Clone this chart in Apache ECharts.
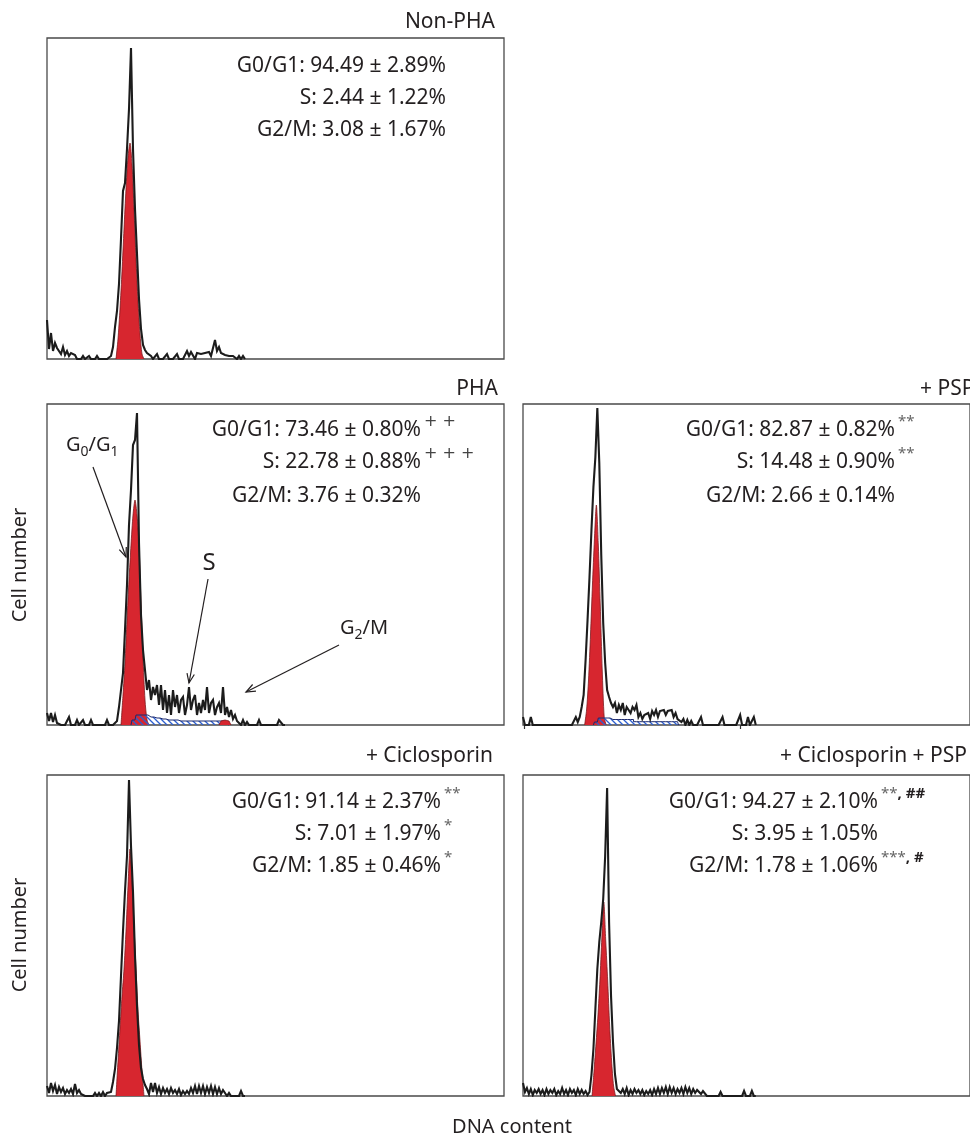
<!DOCTYPE html>
<html><head><meta charset="utf-8">
<script src="https://cdn.jsdelivr.net/npm/echarts@6/dist/echarts.min.js"></script>
<style>html,body{margin:0;padding:0;background:#fff}#c{width:970px;height:1134px}</style>
</head><body><div id="c"></div>
<script>
// ---------- DATA (histogram counts per 2-channel bin, starting at bin 0) ----------
const nonPha = [39,10,26,8,16,11,13,5,12,4, 8,3,6,5,4,0,0,0,3,0, 0,3,0,0,0,3,0,0,0,0,
  0,0,3,12,32,48,75,120,168,176, 210,250,311,210,150,105,60,30,14,9, 6,8,3,0,0,5,0,0,0,0,
  5,0,0,0,0,5,0,0,0,0, 8,3,7,5,0,6,4,5,3,6, 4,7,3,5,19,8,12,6,5,4, 5,3,4,3,4,0,3,0,3,0];
const pha = [12,4,12,3,10,2,0,0,0,0, 0,8,0,0,0,5,0,0,5,0, 0,0,5,0,0,0,0,0,0,0,
  5,0,0,0,0,4,18,35,52,95, 140,200,235,280,285,312,182,110,75,55, 35,45,25,38,30,40,20,40,15,35,
  12,30,10,35,18,30,12,25,28,10, 20,38,15,25,30,10,22,12,25,15, 38,12,22,25,10,18,22,12,38,10,
  18,8,15,6,10,4,6,0,5,0, 3,0,0,0,0,0,5,0,0,0, 0,0,0,0,0,0,5,5,0,0];
const psp = [8,0,0,0,8,0,0,0,0,0, 0,0,0,0,0,0,0,0,0,0, 0,0,0,0,0,0,0,8,3,8,
  18,30,65,105,148,195,238,268,317,262, 170,102,62,35,28,22,18,22,12,20, 15,22,10,18,20,12,18,15,20,8,
  12,6,10,8,12,6,14,10,15,8, 14,12,15,10,14,12,15,8,12,6, 8,3,6,0,5,0,4,0,0,0,
  0,8,0,0,0,0,0,0,0,0, 0,0,8,0,0,0,0,0,0,0, 0,10,0,0,0,8,0,0,8,0];
const cic = [10,3,13,5,11,2,9,4,8,2, 6,3,7,2,12,3,6,2,4,0, 0,0,0,0,3,0,3,0,4,0,
  3,5,4,14,27,48,75,120,165,205, 240,316,250,204,140,90,51,28,17,11, 7,2,13,4,13,3,9,2,8,3,
  7,2,8,3,6,2,7,1,5,2, 5,2,8,3,10,2,10,3,10,2, 9,3,10,2,9,2,8,2,6,3, 0,3,0,0,0,0,0,5,0,0];
const cicPsp = [13,4,8,2,7,1,6,3,7,2, 6,1,7,2,6,3,7,1,5,2, 8,2,6,1,7,3,6,1,7,2,
  6,2,5,1,4,21,47,87,127,154, 174,197,240,308,174,100,54,22,7,6, 3,7,2,8,1,6,2,7,3,6,
  2,6,1,5,2,6,1,7,2,8, 2,8,3,9,2,9,3,8,2,7, 3,8,2,9,3,8,2,7,3,6,
  6,2,5,3,0,0,0,0,0,0, 0,4,0,0,0,0,0,0,0,0, 0,0,0,5,0,0,0,5,0,0];

// G0/G1 model fits (red): first bin + values per bin
const nonPhaFitStart = 34.5, nonPhaFit = [0,20,50,88,130,170,202,216,195,150,100,58,25,5,0];
const phaFitStart = 37,      phaFit = [0,30,62,105,145,180,210,225,210,180,122,68,25,5,0];
const pspFitStart = 31.5,    pspFit = [0,15,45,90,140,185,220,180,120,55,8,0];
const cicFitStart = 34.5,    cicFit = [0,35,68,100,127,165,210,247,215,170,127,85,55,25,0];
const cicPspFitStart = 35.3, cicPspFit = [0,25,52,80,115,158,194,155,115,70,35,10,0];
// G2/M model fit (red) and S-phase model (hatched)
const phaG2Start = 86, phaG2 = [0,4,5,5,4,4,0];
const phaSStart = 42, phaS = [0,5,5,10,10,10,10,10,10,9, 8,8,7,7,7,6,6,6,6,5, 5,5,5,5,5,4,4,4,4,4,
  4,4,4,4,4,4,4,4,4,4, 4,4,4,4,4,4,4,4,4,0];
const pspSStart = 36, pspS = [0,3,3,7,7,7,7,7,7, 5.5,5.5,5.5,5.5,5.5,5.5,5.5,5.5,5.5,5.5,5.5,5.5,
  3.3,3.3,3.3,3.3,3.3,3.3,3.3,3.3,3.3,3.3,3.3,3.3,3.3,3.3,3.3,3.3,3.3,3.3,3.3,3.3,3.3,3.3,3.3, 0];

// Text
const titles = ['Non-PHA', 'PHA', '+ PSP', '+ Ciclosporin', '+ Ciclosporin + PSP'];
const statsNonPha = ['G0/G1: 94.49 ± 2.89%', 'S: 2.44 ± 1.22%', 'G2/M: 3.08 ± 1.67%'];
const statsPha = ['G0/G1: 73.46 ± 0.80%', 'S: 22.78 ± 0.88%', 'G2/M: 3.76 ± 0.32%'];
const statsPsp = ['G0/G1: 82.87 ± 0.82%', 'S: 14.48 ± 0.90%', 'G2/M: 2.66 ± 0.14%'];
const statsCic = ['G0/G1: 91.14 ± 2.37%', 'S: 7.01 ± 1.97%', 'G2/M: 1.85 ± 0.46%'];
const statsCicPsp = ['G0/G1: 94.27 ± 2.10%', 'S: 3.95 ± 1.05%', 'G2/M: 1.78 ± 1.06%'];
const supPha = ['{p|+ +}', '{p|+ + +}', ''];
const supPsp = ['{a|**}', '{a|**}', ''];
const supCic = ['{a|**}', '{a|*}', '{a|*}'];
const supCicPsp = ['{a|**}{b|, ##}', '', '{a|***}{b|, #}'];
const yTitle = 'Cell number', xTitle = 'DNA content';
const phaLabels = [ [['G',0],['0',1],['/G',0],['1',1]], [['S',2]], [['G',0],['2',1],['/M',0]] ];

// ---------- LAYOUT ----------
const F = '"Noto Sans", "Open Sans", sans-serif';
const FS = 21;
const TXT = '#231f20';
const RED = '#d7262f';
const panels = [
  {grid:{left:47, top:38, width:457, height:321}, hist:nonPha, fits:[[nonPhaFitStart,nonPhaFit]], s:null,
   title:titles[0], titleX:495, titleY:22, titleAlign:'right', stats:statsNonPha, sup:['','',''], statX:446, statY:[66,98,130]},
  {grid:{left:47, top:404, width:457, height:321}, hist:pha, fits:[[phaFitStart,phaFit]], s:[phaSStart,phaS], g2:[phaG2Start,phaG2],
   title:titles[1], titleX:498, titleY:389, titleAlign:'right', stats:statsPha, sup:supPha, statX:421, statY:[430,462,496]},
  {grid:{left:523, top:404, width:457, height:321}, hist:psp, fits:[[pspFitStart,pspFit]], s:[pspSStart,pspS],
   title:titles[2], titleX:920, titleY:389, titleAlign:'left', stats:statsPsp, sup:supPsp, statX:895, statY:[430,462,496], ticks:true},
  {grid:{left:47, top:775, width:457, height:321}, hist:cic, fits:[[cicFitStart,cicFit]], s:null,
   title:titles[3], titleX:493, titleY:756, titleAlign:'right', stats:statsCic, sup:supCic, statX:441, statY:[802,834,866]},
  {grid:{left:523, top:775, width:457, height:321}, hist:cicPsp, fits:[[cicPspFitStart,cicPspFit]], s:null,
   title:titles[4], titleX:967, titleY:756, titleAlign:'right', stats:statsCicPsp, sup:supCicPsp, statX:878, statY:[802,834,866]},
];

function hatchCanvas(){
  const c = document.createElement('canvas'); c.width = 6; c.height = 6;
  const g = c.getContext('2d');
  g.strokeStyle = '#2d5fd0'; g.lineWidth = 1.3;
  g.beginPath();
  g.moveTo(-3,3); g.lineTo(3,9);
  g.moveTo(0,0); g.lineTo(6,6);
  g.moveTo(3,-3); g.lineTo(9,3);
  g.stroke();
  return c;
}
const hatch = hatchCanvas();
const pairs = (start, arr) => arr.map((v,i)=>[start+i, v]);

const grid = [], xAxis = [], yAxis = [], series = [];
panels.forEach((p, gi) => {
  grid.push(Object.assign({show:true, borderColor:'#4a4a4a', borderWidth:1.3, containLabel:false}, p.grid));
  xAxis.push({gridIndex:gi, type:'value', min:0, max:228.5,
    axisLine:{show:false}, axisLabel:{show:false}, splitLine:{show:false},
    axisTick:p.ticks ? {show:true, inside:false, length:4, customValues:[0.6,111], lineStyle:{color:'#333', width:1.2}} : {show:false}});
  yAxis.push({gridIndex:gi, type:'value', min:0, max:321, show:false});
  p.fits.forEach(([st, arr]) => series.push({type:'line', xAxisIndex:gi, yAxisIndex:gi, data:pairs(st, arr),
    showSymbol:false, smooth:0.25, lineStyle:{color:'#7d1a20', width:0.8}, areaStyle:{color:RED, opacity:1}, z:2, silent:true}));
  if (p.s) series.push({type:'line', xAxisIndex:gi, yAxisIndex:gi, data:pairs(p.s[0], p.s[1]),
    showSymbol:false, step:'middle', lineStyle:{color:'#1d2a6e', width:1}, areaStyle:{color:{image:hatch, repeat:'repeat'}, opacity:1}, z:3, silent:true});
  if (p.g2) series.push({type:'line', xAxisIndex:gi, yAxisIndex:gi, data:pairs(p.g2[0], p.g2[1]),
    showSymbol:false, lineStyle:{color:'#7d1a20', width:0.8}, areaStyle:{color:RED, opacity:1}, z:4, silent:true});
  series.push({type:'line', xAxisIndex:gi, yAxisIndex:gi, data:pairs(0, p.hist),
    showSymbol:false, lineStyle:{color:'#1c1c1c', width:2.1, join:'miter', miterLimit:4}, z:5, silent:true});
});

const chart = echarts.init(document.getElementById('c'), null, {renderer:'canvas'});
chart.setOption({animation:false, backgroundColor:'#fff', grid, xAxis, yAxis, series});

// ---------- TEXT & ANNOTATIONS ----------
const graphic = [];
const text = (x, y, t, o) => graphic.push({type:'text', x, y, silent:true,
  style:Object.assign({text:t, fontFamily:F, fontSize:FS, fill:TXT, align:'right', verticalAlign:'middle'}, o||{})});
panels.forEach(p => {
  text(p.titleX, p.titleY, p.title, {align:p.titleAlign});
  p.stats.forEach((s, k) => {
    text(p.statX, p.statY[k], s);
    if (p.sup[k]) text(p.statX + 3, p.statY[k] - 8, p.sup[k], {align:'left',
      rich:{a:{fontFamily:F, fontSize:15, fill:'#666'}, b:{fontFamily:F, fontSize:15, fill:TXT, fontWeight:'bold'},
            p:{fontFamily:'"DejaVu Sans", sans-serif', fontSize:16, fill:'#444'}}});
  });
});
graphic.push({type:'text', x:20, y:565, rotation:Math.PI/2, silent:true, style:{text:yTitle, fontFamily:F, fontSize:FS-1, fill:TXT, align:'center', verticalAlign:'middle'}});
graphic.push({type:'text', x:20, y:935, rotation:Math.PI/2, silent:true, style:{text:yTitle, fontFamily:F, fontSize:FS-1, fill:TXT, align:'center', verticalAlign:'middle'}});
text(512, 1127, xTitle, {align:'center', fontSize:FS-1});

// annotation arrows in PHA panel (data coordinates)
const arrows = [ [[23,258],[39.5,168]], [[80.5,146],[71,42]], [[146,80],[99.5,33]] ];
arrows.forEach(([a, b]) => {
  const A = chart.convertToPixel({gridIndex:1}, a), B = chart.convertToPixel({gridIndex:1}, b);
  const dx = B[0]-A[0], dy = B[1]-A[1], L = Math.hypot(dx, dy), ux = dx/L, uy = dy/L;
  const h = 10, ang = 0.38;
  const rot = (x, y, t) => [x*Math.cos(t) - y*Math.sin(t), x*Math.sin(t) + y*Math.cos(t)];
  const r1 = rot(-ux, -uy, ang), r2 = rot(-ux, -uy, -ang);
  graphic.push({type:'line', silent:true, shape:{x1:A[0], y1:A[1], x2:B[0], y2:B[1]}, style:{stroke:'#231f20', lineWidth:1.2}});
  graphic.push({type:'polyline', silent:true, shape:{points:[[B[0]+h*r1[0], B[1]+h*r1[1]], B, [B[0]+h*r2[0], B[1]+h*r2[1]]]}, style:{stroke:'#231f20', lineWidth:1.2, fill:null}});
});
const mctx = document.createElement('canvas').getContext('2d');
const measure = (t, size) => { mctx.font = size + 'px "Noto Sans"'; return mctx.measureText(t).width; };
const sizes = [20, 14, 24], dys = [0, 7, 0];
const lab = (pt, parts, center) => {
  const P = chart.convertToPixel({gridIndex:1}, pt);
  let total = 0; parts.forEach(([t, k]) => total += measure(t, sizes[k]));
  let x = center ? P[0] - total/2 : P[0];
  parts.forEach(([t, k]) => {
    graphic.push({type:'text', x, y:P[1] + dys[k], silent:true, style:{text:t, fontFamily:F, fontSize:sizes[k], fill:TXT, align:'left', verticalAlign:'middle'}});
    x += measure(t, sizes[k]);
  });
};
lab([9.5, 280], phaLabels[0], false);
lab([81, 162], phaLabels[1], true);
lab([146.5, 97], phaLabels[2], false);

chart.setOption({graphic});
</script>
</body></html>
